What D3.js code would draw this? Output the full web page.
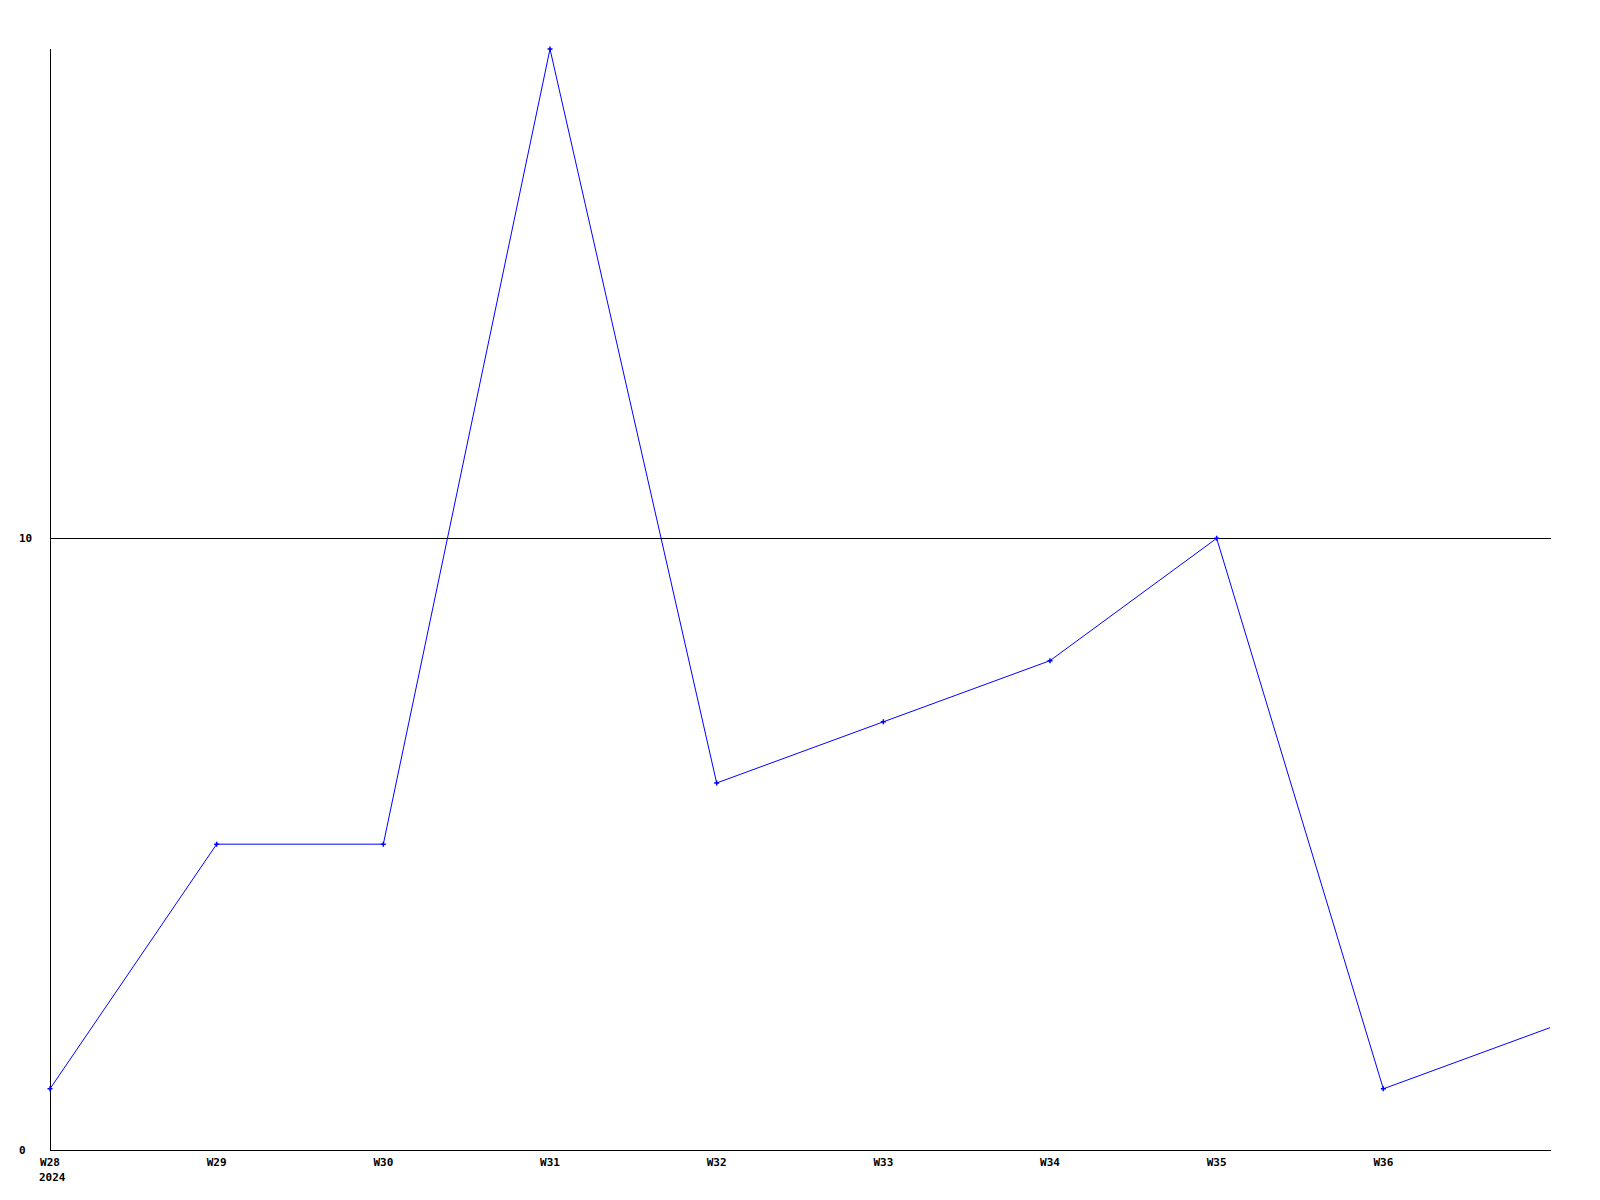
<!DOCTYPE html>
<html><head><meta charset="utf-8">
<script src="https://cdn.jsdelivr.net/npm/d3@7"></script>
<style>body{margin:0;background:#fff}svg{display:block}text{font-family:"DejaVu Sans Mono","Liberation Mono",monospace;font-weight:bold;font-size:11px;fill:#000}</style>
</head><body><svg id="c" width="1600" height="1200"></svg>
<script>
const weeks = ["W28","W29","W30","W31","W32","W33","W34","W35","W36","W37"];
const values = [1,5,5,18,6,7,8,10,1,2];
const yTicks = [0,10];
const yearLabel = "2024";

const svg = d3.select("#c");
const x = d3.scalePoint().domain(weeks).range([50,1550]);
const y = d3.scaleLinear().domain([0,18]).range([1150,49]);

// grid line at 10
svg.append("g").selectAll("line").data(yTicks.filter(d=>d>0)).join("line")
  .attr("x1",50).attr("x2",1551).attr("y1",d=>Math.round(y(d))+0.5).attr("y2",d=>Math.round(y(d))+0.5)
  .attr("stroke","#000").attr("stroke-width",1);
// axes
svg.append("line").attr("x1",50.5).attr("x2",50.5).attr("y1",49).attr("y2",1150).attr("stroke","#000");
svg.append("line").attr("x1",50).attr("x2",1551).attr("y1",1150.5).attr("y2",1150.5).attr("stroke","#000");

// y labels
svg.append("g").selectAll("text").data(yTicks).join("text")
  .attr("x",19).attr("y",d=>Math.round(y(d))+4).text(d=>d);

// x labels (skip last, clipped at edge)
const lbl = svg.append("g").selectAll("text").data(weeks.slice(0,9)).join("text")
  .attr("x",d=>x(d)).attr("y",1166).attr("text-anchor","middle").text(d=>d);
svg.append("text").attr("x",x(weeks[0])-11).attr("y",1181).text(yearLabel);

// line
const data = weeks.map((w,i)=>({w,v:values[i]}));
svg.append("path").datum(data)
  .attr("d",d3.line().x(d=>x(d.w)).y(d=>y(d.v)))
  .attr("fill","none").attr("stroke","#0000ff").attr("stroke-width",1);
// markers
svg.append("g").selectAll("path").data(data.slice(0,9)).join("path")
  .attr("transform",d=>`translate(${x(d.w)},${y(d.v)})`)
  .attr("d","M-2.5,0H2.5M0,-2.5V2.5").attr("stroke","#0000ff").attr("stroke-width",1.5);
</script></body></html>
